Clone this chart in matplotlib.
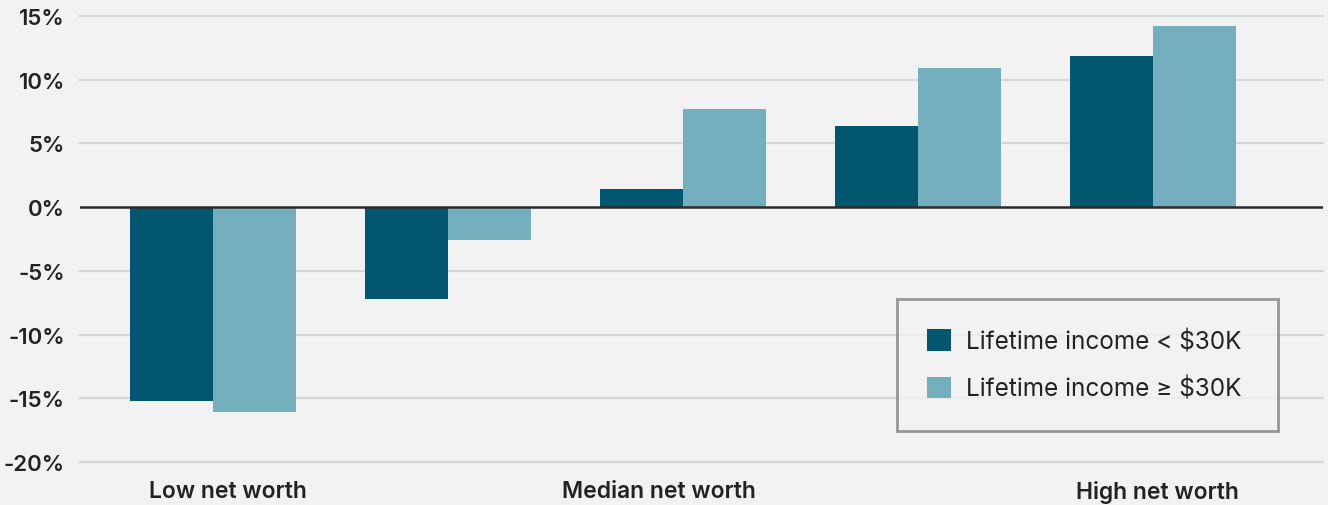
import numpy as np
import matplotlib.pyplot as plt

# Data (percent change)
groups = ["g1", "g2", "g3", "g4", "g5"]
income_low = [-15.2, -7.2, 1.4, 6.4, 11.9]
income_high = [-16.1, -2.6, 7.7, 10.9, 14.2]
series_names = ["Lifetime income < \\$30K", "Lifetime income ≥ \\$30K"]
x_labels = ["Low net worth", "Median net worth", "High net worth"]
x_label_pos = [0.064, 1.898, 4.017]
y_ticks = [-20, -15, -10, -5, 0, 5, 10, 15]

dark = "#02566f"
light = "#73afbd"
bg = "#f2f2f2"

plt.rcParams['font.family'] = ['Inter', 'DejaVu Sans']

fig = plt.figure(figsize=(13.28, 5.06), dpi=100, facecolor=bg)
ax = fig.add_axes([80 / 1328, 43 / 506, 1243 / 1328, 446 / 506])
ax.set_facecolor(bg)

x = np.arange(len(groups))
w = 0.353
ax.bar(x - w / 2, income_low, w, color=dark, label=series_names[0], zorder=2)
ax.bar(x + w / 2, income_high, w, color=light, label=series_names[1], zorder=2)

ax.set_ylim(-20, 15)
ax.set_xlim(-0.566, 4.723)
ax.set_yticks(y_ticks)
ax.set_yticklabels([f"{v}%" for v in y_ticks], fontsize=16, fontweight='semibold', color="#222222")
ax.set_xticks(x_label_pos)
ax.set_xticklabels(x_labels, fontsize=16.5, fontweight='semibold', color="#222222")
ax.tick_params(axis='y', length=0, pad=11)
ax.tick_params(axis='x', length=0, pad=13)

for v in y_ticks:
    if v != 0:
        ax.axhline(v, color="#d3d7d7", lw=1.6, zorder=1, clip_on=False)
ax.axhline(0, color="#2a2a2a", lw=1.8, zorder=3)

for s in ax.spines.values():
    s.set_visible(False)

leg = ax.legend(loc='upper left',
                bbox_to_anchor=(897 / 1328, 1 - 300 / 506 - 0.01, 381 / 1328, 0.01),
                bbox_transform=fig.transFigure, mode='expand',
                fontsize=17.5, frameon=True, fancybox=False,
                handlelength=0.98, handleheight=0.98, handletextpad=0.6,
                labelspacing=0.95, borderpad=1.25, borderaxespad=0)
leg.get_frame().set_edgecolor("#808080")
leg.get_frame().set_linewidth(2)
leg.get_frame().set_facecolor(bg)
for t in leg.get_texts():
    t.set_color("#222222")

fig.savefig("out.png", dpi=100, facecolor=bg)
